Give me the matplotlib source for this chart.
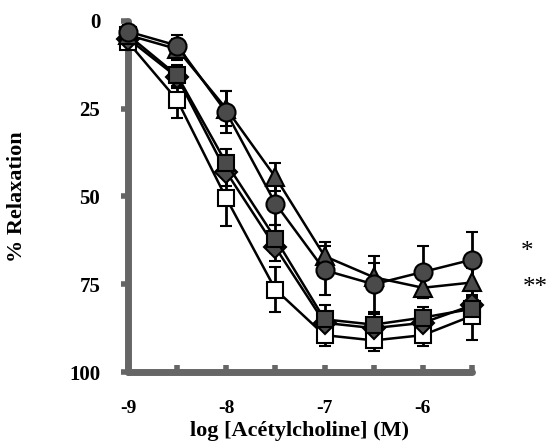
import matplotlib.pyplot as plt
import numpy as np

# log [ACh] (M)
log_ach = [-9, -8.5, -8, -7.5, -7, -6.5, -6, -5.5]

# % relaxation par groupe
rel_cercle = [3, 7, 26, 52, 71, 75, 71.5, 68]
err_cercle = [2, 3, 6, 6, 7, 8, 7.5, 8]
rel_triangle = [4, 8, 25, 44.5, 67, 73, 76, 74.5]
err_triangle = [2, 3, 5, 4, 4, 4, 3, 4]
rel_carre = [4, 15.5, 40.5, 62, 85, 86.5, 84.5, 82]
err_carre = [2, 3, 4, 4, 4, 3, 3, 4]
rel_losange = [5, 16, 43, 64.5, 86, 87.5, 86, 81]
err_losange = [2, 3, 4, 4, 3, 3, 3, 4]
rel_ouvert = [6, 22.5, 50.5, 76.5, 89.5, 91, 89.5, 84]
err_ouvert = [2, 5, 8, 6.5, 3, 3, 3, 7]

ytick_vals = [0, 25, 50, 75, 100]
xtick_vals = [-9, -8.5, -8, -7.5, -7, -6.5, -6, -5.5]
xtick_labels = ['-9', '', '-8', '', '-7', '', '-6', '']

plt.rcParams['font.family'] = ['Liberation Serif', 'DejaVu Serif']

fig = plt.figure(figsize=(5.47, 4.46), dpi=100, facecolor='white')
ax = fig.add_axes([128 / 547, 1 - 372 / 446, (472 - 128) / 547, (372 - 21) / 446])

gris = '#4a4a4a'
series = [
    (rel_ouvert, err_ouvert, 's', 'white', 12),
    (rel_losange, err_losange, 'D', gris, 11),
    (rel_carre, err_carre, 's', gris, 12),
    (rel_triangle, err_triangle, '^', gris, 13),
    (rel_cercle, err_cercle, 'o', gris, 13),
]
for vals, errs, mk, fc, ms in series:
    ax.errorbar(log_ach, vals, yerr=errs, fmt='-', color='black', lw=1.8,
                elinewidth=2, capsize=4, capthick=2, marker=mk, markersize=ms,
                markerfacecolor=fc, markeredgecolor='black', markeredgewidth=1.5,
                clip_on=False, zorder=3)

ax.set_xlim(-9, -5.5)
ax.set_ylim(100, 0)

for s in ['top', 'right']:
    ax.spines[s].set_visible(False)
for s in ['left', 'bottom']:
    ax.spines[s].set_linewidth(5)
    ax.spines[s].set_color('#666666')
    ax.spines[s].set_capstyle('round')

ax.set_yticks(ytick_vals)
ax.set_yticklabels([str(v) for v in ytick_vals], fontsize=15, fontweight='bold')
ax.set_xticks(xtick_vals)
ax.set_xticklabels(xtick_labels, fontsize=14, fontweight='bold')
ax.tick_params(axis='y', direction='out', length=5, width=4, color='#666666', pad=15)
ax.tick_params(axis='x', direction='in', length=5, width=4, color='#666666', pad=20)

ax.set_xlabel('log [Acétylcholine] (M)', fontsize=16, fontweight='bold', labelpad=3)
ax.set_ylabel('% Relaxation', fontsize=16, fontweight='bold', labelpad=30)

# marques de signification
fig.text(527 / 547, 1 - 252 / 446, '*', fontsize=18, ha='center', va='center')
fig.text(535 / 547, 1 - 288 / 446, '**', fontsize=18, ha='center', va='center')

fig.savefig('out.png', dpi=100, facecolor='white')
